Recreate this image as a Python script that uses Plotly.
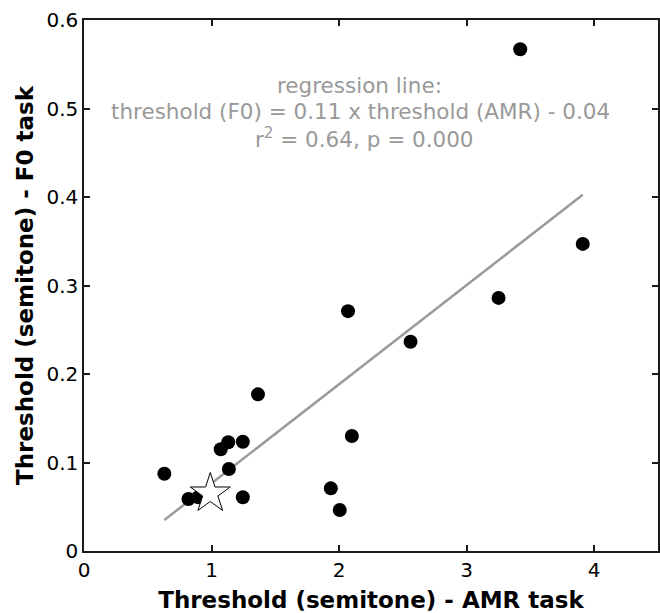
import plotly.graph_objects as go

# Data
amr = [3.42, 3.91, 3.25, 2.07, 2.56, 2.10, 1.935, 2.005, 1.364, 0.630,
       1.072, 1.131, 1.245, 1.136, 1.245, 0.819, 0.897]
f0 = [0.567, 0.347, 0.286, 0.271, 0.2365, 0.130, 0.0708, 0.0463, 0.177, 0.0873,
      0.115, 0.1228, 0.1235, 0.0927, 0.0607, 0.0588, 0.0607]
star_amr = [0.99]
star_f0 = [0.065]
slope = 0.112
intercept = -0.0355
line_x = [0.63, 3.91]
line_y = [slope * v + intercept for v in line_x]

x_ticks = [0, 1, 2, 3, 4]
x_ticklabels = ["0", "1", "2", "3", "4"]
y_ticks = [0, 0.1, 0.2, 0.3, 0.4, 0.5, 0.6]
y_ticklabels = ["0", "0.1", "0.2", "0.3", "0.4", "0.5", "0.6"]

ann_lines = ["regression line:",
             "threshold (F0) = 0.11 x threshold (AMR) - 0.04",
             "r<sup>2</sup> = 0.64, p = 0.000"]

FONT = "DejaVu Sans"

fig = go.Figure()
fig.add_trace(go.Scatter(x=line_x, y=line_y, mode="lines",
                         line=dict(color="#9a9a9a", width=2.5),
                         hoverinfo="skip", showlegend=False))
fig.add_trace(go.Scatter(x=amr, y=f0, mode="markers",
                         marker=dict(color="black", size=14, line=dict(width=0)),
                         showlegend=False))
fig.add_trace(go.Scatter(x=star_amr, y=star_f0, mode="markers",
                         marker=dict(symbol="star", color="white", size=30,
                                     line=dict(color="black", width=1)),
                         showlegend=False))

ann_x = [2.16, 2.17, 2.2]
ann_y = [0.5255, 0.4963, 0.4662]
for txt, xx, yy in zip(ann_lines, ann_x, ann_y):
    fig.add_annotation(x=xx, y=yy, xref="x", yref="y", text=txt,
                       showarrow=False, xanchor="center", yanchor="middle",
                       font=dict(family=FONT, size=21.5, color="#999999"))

axis_common = dict(showline=True, linecolor="#1a1a1a", linewidth=1.5,
                   mirror="ticks", ticks="inside", ticklen=6, tickwidth=1.5,
                   tickcolor="#1a1a1a", showgrid=False, zeroline=False,
                   tickfont=dict(family=FONT, size=20, color="black"))

fig.update_layout(
    width=660, height=613,
    margin=dict(l=84, r=0, t=20, b=62),
    plot_bgcolor="white", paper_bgcolor="white",
    xaxis=dict(range=[0, 4.5], tickvals=x_ticks, ticktext=x_ticklabels,
               title=dict(text="Threshold (semitone) - AMR task", standoff=12,
                          font=dict(family=FONT, size=23, color="black", weight="bold")),
               **axis_common),
    yaxis=dict(range=[0, 0.6], tickvals=y_ticks, ticktext=y_ticklabels,
               title=dict(text="Threshold (semitone) - F0 task", standoff=6,
                          font=dict(family=FONT, size=23, color="black", weight="bold")),
               **axis_common),
)

fig.write_html("out.html")
